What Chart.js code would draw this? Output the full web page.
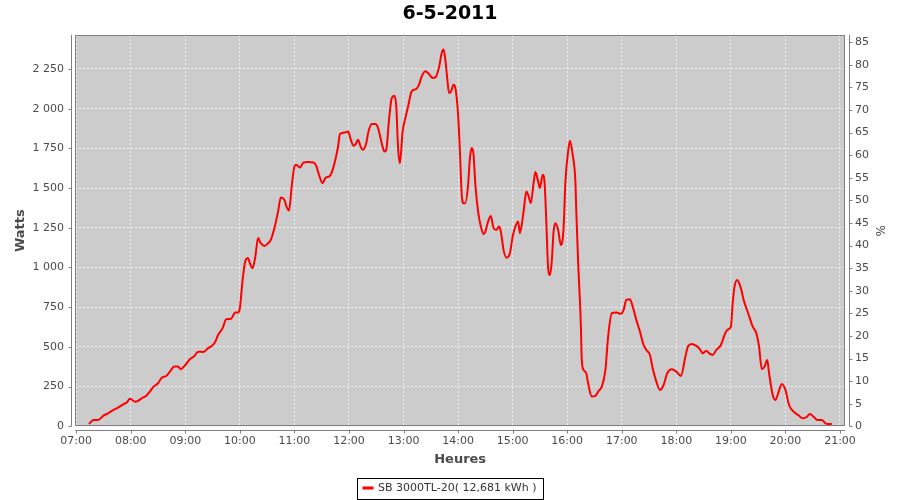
<!DOCTYPE html>
<html>
<head>
<meta charset="utf-8">
<script src="https://cdn.jsdelivr.net/npm/chart.js@4.4.1/dist/chart.umd.min.js"></script>
<style>
  html, body { margin: 0; padding: 0; background: #fff; }
  canvas { display: block; }
</style>
</head>
<body>
<canvas id="chart" width="900" height="500"></canvas>
<script>
const chartTitle = '6-5-2011';
const seriesLabel = 'SB 3000TL-20( 12,681 kWh )';

// sample times (HH:MM) and power in watts
const times = [
  '07:14','07:19','07:24','07:30','07:35','07:41','07:46','07:52','07:56','07:59',
  '08:05','08:08','08:12','08:17','08:21','08:25','08:30','08:34','08:39','08:43',
  '08:48','08:52','08:55','09:00','09:05','09:10','09:14','09:20','09:25','09:29',
  '09:33','09:36','09:41','09:45','09:50','09:55','09:58','10:00','10:03','10:06',
  '10:09','10:11','10:14','10:17','10:20','10:23','10:27','10:31','10:34','10:38',
  '10:42','10:45','10:49','10:51','10:54','10:57','11:00','11:02','11:06','11:10',
  '11:15','11:21','11:24','11:27','11:31','11:34','11:39','11:42','11:45','11:48',
  '11:50','11:56','11:59','12:02','12:05','12:07','12:10','12:13','12:15','12:19',
  '12:21','12:25','12:29','12:32','12:36','12:39','12:41','12:44','12:47','12:50',
  '12:52','12:54','12:56','12:59','13:02','13:05','13:09','13:14','13:17','13:20',
  '13:24','13:28','13:32','13:35','13:39','13:42','13:44','13:46','13:48','13:50',
  '13:52','13:55','13:57','14:00','14:02','14:04','14:06','14:08','14:11','14:13',
  '14:15','14:17','14:19','14:22','14:25','14:28','14:30','14:33','14:36','14:39',
  '14:42','14:45','14:47','14:50','14:53','14:57','15:00','15:03','15:06','15:08',
  '15:12','15:15','15:17','15:20','15:23','15:25','15:28','15:30','15:33','15:35',
  '15:37','15:39','15:41','15:43','15:45','15:47','15:50','15:53','15:56','15:58',
  '16:01','16:03','16:06','16:09','16:10','16:12','16:15','16:16','16:18','16:21',
  '16:23','16:27','16:31','16:34','16:38','16:42','16:45','16:49','16:54','16:59',
  '17:02','17:05','17:09','17:12','17:16','17:20','17:24','17:27','17:31','17:34',
  '17:38','17:42','17:46','17:50','17:55','18:00','18:05','18:10','18:13','18:17',
  '18:22','18:26','18:29','18:33','18:36','18:40','18:44','18:49','18:53','18:56',
  '19:00','19:02','19:04','19:07','19:11','19:14','19:19','19:24','19:28','19:31',
  '19:34','19:37','19:40','19:42','19:46','19:49','19:52','19:56','20:00','20:04',
  '20:09','20:14','20:19','20:23','20:27','20:31','20:35','20:40','20:44','20:49',
  '20:51'
];
const watts = [
  15, 40, 40, 67, 82, 103, 117, 140, 151, 174,
  155, 161, 176, 193, 218, 250, 271, 306, 317, 344,
  376, 376, 359, 386, 422, 443, 470, 468, 492, 506,
  533, 575, 618, 674, 676, 716, 716, 744, 922, 1040,
  1059, 1027, 996, 1069, 1185, 1153, 1136, 1153, 1174, 1248,
  1352, 1441, 1426, 1388, 1359, 1510, 1636, 1647, 1630, 1661,
  1664, 1661, 1640, 1584, 1531, 1563, 1577, 1615, 1678, 1762,
  1840, 1850, 1857, 1804, 1766, 1773, 1804, 1758, 1741, 1783,
  1846, 1903, 1903, 1878, 1783, 1730, 1741, 1930, 2067, 2082,
  2014, 1750, 1657, 1857, 1941, 2014, 2109, 2124, 2151, 2203,
  2235, 2218, 2193, 2197, 2260, 2351, 2372, 2308, 2193, 2099,
  2105, 2151, 2130, 1962, 1730, 1458, 1405, 1405, 1521, 1689,
  1752, 1710, 1521, 1352, 1258, 1210, 1226, 1290, 1325, 1248,
  1237, 1258, 1226, 1111, 1062, 1090, 1195, 1258, 1290, 1216,
  1352, 1478, 1458, 1405, 1531, 1601, 1541, 1500, 1584, 1541,
  1290, 996, 953, 1037, 1226, 1279, 1237, 1142, 1248, 1541,
  1730, 1798, 1710, 1541, 1352, 1037, 638, 419, 355, 334,
  271, 187, 191, 218, 250, 355, 565, 712, 716, 708,
  733, 796, 800, 754, 670, 596, 512, 481, 449, 365,
  281, 229, 260, 334, 359, 344, 317, 439, 506, 519,
  506, 485, 460, 476, 460, 449, 481, 512, 575, 607,
  628, 775, 880, 922, 870, 796, 712, 628, 586, 502,
  359, 376, 418, 334, 197, 166, 208, 267, 229, 134,
  92, 71, 50, 57, 78, 60, 40, 40, 19, 14,
  14
];

const hourTicks = ['07:00','08:00','09:00','10:00','11:00','12:00','13:00','14:00',
  '15:00','16:00','17:00','18:00','19:00','20:00','21:00'];
const wattTicks = [0, 250, 500, 750, 1000, 1250, 1500, 1750, 2000, 2250];
const percentTicks = [0, 5, 10, 15, 20, 25, 30, 35, 40, 45, 50, 55, 60, 65, 70, 75, 80, 85];

function toMinutes(hhmm) {
  const [h, m] = hhmm.split(':').map(Number);
  return h * 60 + m;
}
function fmtTime(v) {
  const h = Math.floor(v / 60), m = Math.round(v % 60);
  return String(h).padStart(2, '0') + ':' + String(m).padStart(2, '0');
}
function fmtWatts(v) {
  if (v < 1000) return String(v);
  return Math.floor(v / 1000) + ' ' + String(v % 1000).padStart(3, '0');
}

const points = times.map((t, i) => ({ x: toMinutes(t), y: watts[i] }));

const tickColor = '#4a4a4a';
const axisColor = '#808080';
const gridColor = 'rgba(255,255,255,0.7)';
Chart.defaults.font.family = '"DejaVu Sans", sans-serif';

// grey plot background, outline and the offset axis lines with tick marks
const plotFrame = {
  id: 'plotFrame',
  beforeDraw(chart) {
    const { ctx, chartArea: a } = chart;
    ctx.save();
    ctx.fillStyle = '#ffffff';
    ctx.fillRect(0, 0, chart.width, chart.height);
    ctx.fillStyle = '#cccccc';
    ctx.fillRect(a.left, a.top, a.right - a.left, a.bottom - a.top);
    ctx.restore();
  },
  afterDatasetsDraw(chart) {
    const { ctx, chartArea: a, scales } = chart;
    const px = v => Math.round(v) + 0.5;
    ctx.save();
    ctx.strokeStyle = axisColor;
    ctx.lineWidth = 1;
    ctx.strokeRect(px(a.left), px(a.top), Math.round(a.right - a.left) - 1, Math.round(a.bottom - a.top) - 1);

    const lx = px(a.left - 4), rx = px(a.right + 4), by = px(a.bottom + 4);
    ctx.beginPath();
    ctx.moveTo(lx, a.top); ctx.lineTo(lx, a.bottom);
    ctx.moveTo(rx, a.top); ctx.lineTo(rx, a.bottom);
    ctx.moveTo(a.left, by); ctx.lineTo(a.right, by);
    scales.y.ticks.forEach(t => {
      const y = px(scales.y.getPixelForValue(t.value));
      ctx.moveTo(lx - 3, y); ctx.lineTo(lx, y);
    });
    scales.pct.ticks.forEach(t => {
      const y = px(scales.pct.getPixelForValue(t.value));
      ctx.moveTo(rx, y); ctx.lineTo(rx + 3, y);
    });
    scales.x.ticks.forEach(t => {
      const x = px(scales.x.getPixelForValue(t.value));
      ctx.moveTo(x, by); ctx.lineTo(x, by + 3);
    });
    ctx.stroke();
    ctx.restore();
  },
  afterDraw(chart) {
    const hb = chart.legend && chart.legend.legendHitBoxes && chart.legend.legendHitBoxes[0];
    if (!hb) return;
    const ctx = chart.ctx;
    ctx.save();
    ctx.strokeStyle = '#000000';
    ctx.lineWidth = 1;
    const x0 = Math.round(hb.left - 7) + 0.5;
    const x1 = Math.round(hb.left + hb.width + 7) + 0.5;
    const y0 = Math.round(hb.top - 5) + 0.5;
    const y1 = Math.round(hb.top + hb.height + 5) + 0.5;
    ctx.strokeRect(x0, y0, x1 - x0, y1 - y0);
    ctx.restore();
  }
};

new Chart(document.getElementById('chart'), {
  type: 'line',
  data: {
    datasets: [{
      label: seriesLabel,
      data: points,
      borderColor: '#ff0000',
      backgroundColor: '#ff0000',
      borderWidth: 2,
      pointRadius: 0,
      cubicInterpolationMode: 'monotone',
      fill: false
    }]
  },
  options: {
    responsive: false,
    animation: false,
    layout: { padding: 0 },
    plugins: {
      title: {
        display: true,
        text: chartTitle,
        color: '#000000',
        font: { size: 19, weight: 'bold' },
        padding: { top: 2.6, bottom: 9.6 }
      },
      legend: {
        position: 'bottom',
        maxHeight: 29.7,
        labels: {
          boxWidth: 9,
          boxHeight: 1,
          padding: 12.2,
          color: '#333333',
          font: { size: 11 }
        }
      },
      tooltip: { enabled: false }
    },
    scales: {
      x: {
        type: 'linear',
        min: 419,
        max: 1265.5,
        afterBuildTicks: s => { s.ticks = hourTicks.map(h => ({ value: toMinutes(h) })); },
        afterFit: s => { s.height = 44; },
        ticks: {
          callback: v => fmtTime(v),
          padding: 8,
          color: tickColor,
          font: { size: 11 },
          maxRotation: 0,
          autoSkip: false
        },
        grid: { color: gridColor, lineWidth: 1, drawTicks: false },
        border: { display: false, dash: [2, 2] },
        title: {
          display: true,
          text: 'Heures',
          color: tickColor,
          font: { size: 13, weight: 'bold' },
          padding: { top: 0, bottom: 2.5 }
        }
      },
      y: {
        type: 'linear',
        position: 'left',
        min: 0,
        max: 2464,
        afterBuildTicks: s => { s.ticks = wattTicks.map(v => ({ value: v })); },
        afterFit: s => { s.width = 75.3; },
        ticks: {
          callback: v => fmtWatts(v),
          padding: 11.3,
          color: tickColor,
          font: { size: 11 }
        },
        grid: { color: gridColor, lineWidth: 1, drawTicks: false },
        border: { display: false, dash: [2, 2] },
        title: {
          display: true,
          text: 'Watts',
          color: tickColor,
          font: { size: 13, weight: 'bold' },
          padding: { top: 13.2, bottom: 0 }
        }
      },
      pct: {
        type: 'linear',
        position: 'right',
        min: 0,
        max: 86.6,
        afterBuildTicks: s => { s.ticks = percentTicks.map(v => ({ value: v })); },
        afterFit: s => { s.width = 55; },
        ticks: {
          padding: 10,
          color: tickColor,
          font: { size: 11 }
        },
        grid: { drawOnChartArea: false, drawTicks: false },
        border: { display: false },
        title: {
          display: true,
          text: '%',
          color: tickColor,
          font: { size: 12 },
          padding: { top: 14, bottom: 0 }
        }
      }
    }
  },
  plugins: [plotFrame]
});
</script>
</body>
</html>
